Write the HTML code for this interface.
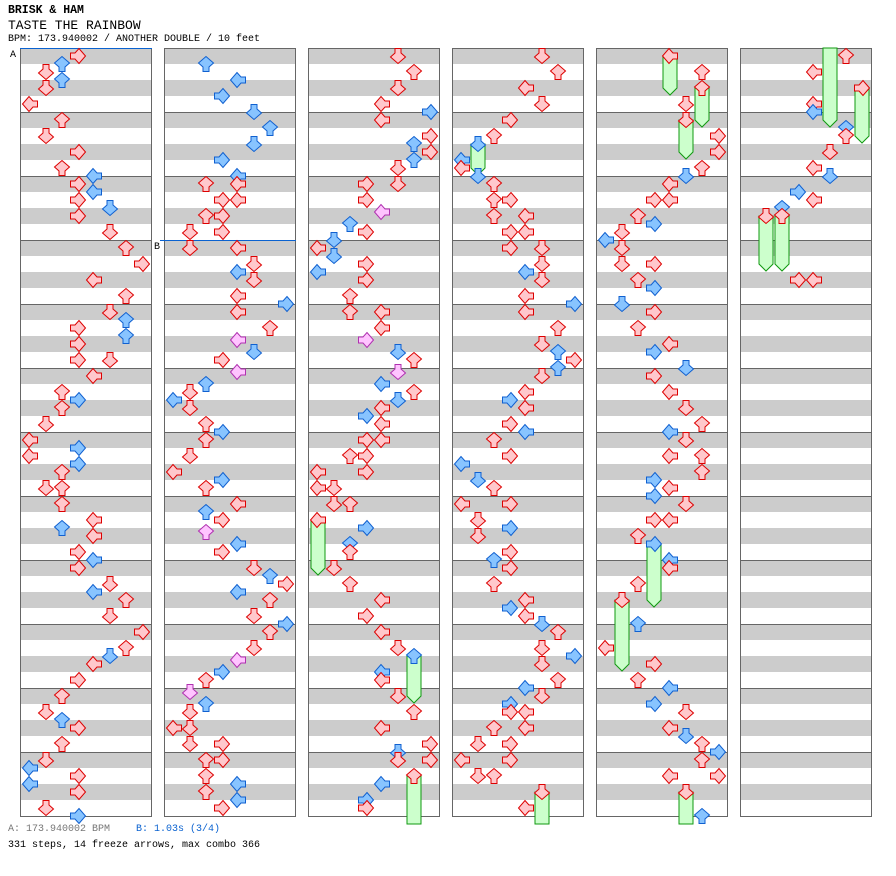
<!DOCTYPE html>
<html><head><meta charset="utf-8">
<style>
html,body{margin:0;padding:0;background:#fff;}
body{width:896px;height:876px;overflow:hidden;position:relative;font-family:"Liberation Mono",monospace;}
.t{position:absolute;white-space:pre;color:#000;}
</style></head>
<body>
<div class="t" style="left:8px;top:4px;font-size:11.5px;font-weight:bold;">BRISK &amp; HAM</div>
<div class="t" style="left:8px;top:18px;font-size:13px;">TASTE THE RAINBOW</div>
<div class="t" style="left:8px;top:34px;font-size:10px;">BPM: 173.940002 / ANOTHER DOUBLE / 10 feet</div>
<svg id="chart" width="896" height="876" style="position:absolute;left:0;top:0;pointer-events:none;"></svg>
<div class="t" style="left:8px;top:824px;font-size:10px;color:#777;">A: 173.940002 BPM</div>
<div class="t" style="left:136px;top:824px;font-size:10px;color:#0a62d0;">B: 1.03s (3/4)</div>
<div class="t" style="left:8px;top:840px;font-size:10px;">331 steps, 14 freeze arrows, max combo 366</div>
<script>
// times in eighth-beats from song start; 96 eighths per column
const noteTimes = [
0,1,2,3,4,6, 8,10,12,14,15, 16,17,18,19,20,22, 24,26,28,30, 32,33,34,35,36,38,38, 40,42,43,44,46,
48,49,50,51,52,54,54, 56,58,59,60,62,63, 64,66,67,68,70, 72,74,75,76,78, 80,82,83,84,86, 88,89,90,91,92,94,95,
97,99,101,103, 105,107,109,111, 112,112,114,114,116,116,118,118, 120,120,122,123,124,126,127, 128,130,131.5,133,134,135.5,
137,138,139,140,142,143, 144,146,148,149,150, 152,153,154,155.5,157,158, 160,161,162,163,164,166,167,
168,170,171.5,173,174,175.5, 177,178,180,180,182,182, 184,184,186,187,188,189,190,
192,194,196,198,199, 200,202,203,204,205,206, 208,208,210,211.5,213,214,215, 216,217,218,219,220,222,
224,224,226,227.5,229,230,231.5, 233,234,235,236,237,238, 240,240,242,242,244,244,246,246, 248,248,250,251,253,254,
256,258,260,262, 264,266,267,269,270, 272,274,276,278,279, 280,280,282,283,285,286,
288,290,292,294, 296,298,299,301,302,303, 304,306,306,308,308,310,310, 312,312,314,315,316,318,319,
320,322,324,325,326,327, 328,330,331,332,334,335, 336,338,339,341,342, 344,344,346,347,348,350,351,
352,354,356,357,358,359, 360,362,363,364,366,367, 368,369,370,370,372,372,374,374, 376,376,378,378,380,382,
384,386,388,390, 392,394,396,398,399, 400,402,402,404,405,406,407, 408,410,410,412,413,415, 416,418,420,421,423,
424,426,428,430,431, 432,434,434,436,437,438,439, 440,442,442,444,445,447, 448,450,452, 455,458,460,462,463,
465,466,468,469,470,471, 472,474,474,476,479,
480,482,484,486,487, 489,490,492,494,495, 497,498,499,500,500, 508,508
];
// lane 0-7: L D U R (P1) L D U R (P2)
const noteLanes = [
3,2,1,2,1,0, 2,1,3,2,4, 3,4,3,5,3,5, 6,7,4,6, 5,6,3,6,3,3,5, 4,2,3,2,1,
0,3,0,3,2,1,2, 2,4,2,4,3,4, 3,5,4,6,5, 7,6,5,4,3, 2,1,2,3,2, 1,0,3,0,3,1,3,
2,4,3,5, 6,5,3,4, 2,4,3,4,2,3,1,3, 1,4,5,4,5,4,7, 4,6,4,5,3,4,
2,1,0,1,2,3, 2,1,0,3,2, 4,2,3,2,4,3, 5,6,7,4,6,5,7,
6,5,4,3,2,1, 2,1,0,1,1,3, 2,3,2,4,2,4,3,
5,6,5,4,7, 4,7,6,7,6,5, 5,3,3,4,2,3,1, 0,1,3,0,3,2,
2,4,4,3,5,6,5, 4,6,5,4,3,4, 3,4,2,3,0,3,0,1, 1,2,0,3,2,2,
1,2,4,3, 4,5,6,4,4, 5,6,4,7,5, 5,7,6,4,3,3,
5,6,4,5, 3,2,1,0,0,1, 2,2,3,2,4,3,4, 3,5,5,4,5,4,7,
4,6,5,6,7,6, 5,4,3,4,3,4, 2,3,0,1,2, 0,3,1,3,1,3,2,
3,2,4,3,4,5, 6,5,7,5,6,4, 5,3,3,4,2,4,1,3, 0,3,1,2,5,4,
4,6,6,5, 5,7,7,6,5, 4,3,4,2,3,1,0, 1,1,3,2,3,1, 3,2,4,3,5,
3,4,5,6,4, 5,4,6,6,3,4,3, 5,3,4,2,3,4, 4,2,1, 2,0,3,2,4,
3,5,4,5,6,7, 6,4,7,5,6,
6,4,7,4,4, 6,6,5,4,5, 3,4,2,1,2, 3,4
];
const freezeStarts = [250,267,282,299,380,384,388,392,445,452,476,484,500,500];
const freezeEnds   = [256,272,288,302,384,388,392,396,452,460,488,490,506,506];
const freezeLanes  = [0,6,6,1,5,4,6,5,3,1,5,7,1,2];

const svg = document.getElementById('chart');
const NS = 'http://www.w3.org/2000/svg';
const PANEL_X = 20, PANEL_STEP = 144, PANEL_W = 132, TOP = 48, PER_PANEL = 96;
function panelOf(t){ return Math.floor(t / PER_PANEL); }
function xScale(t, lane){ return PANEL_X + panelOf(t) * PANEL_STEP + 10 + 16 * lane; }
function yScale(t){ return TOP + 8 + 8 * (t - panelOf(t) * PER_PANEL); }
function mk(tag, attrs){ const e = document.createElementNS(NS, tag); for (const k in attrs) e.setAttribute(k, attrs[k]); return e; }

// panels
for (let p = 0; p < 6; p++) {
  const g = mk('g', {});
  
  
  const x0 = PANEL_X + p * PANEL_STEP;
  for (let k = 0; k < 48; k++) {
    if (k % 2 === 0) g.appendChild(mk('rect', {x: x0, y: TOP + 16 * k, width: PANEL_W, height: 16, fill: '#cccccc'}));
  }
  for (let m = 1; m < 12; m++) {
    g.appendChild(mk('line', {x1: x0, x2: x0 + PANEL_W, y1: TOP + 64 * m + 0.5, y2: TOP + 64 * m + 0.5, stroke: '#666', 'stroke-width': 1}));
  }
  g.appendChild(mk('rect', {x: x0 + 0.5, y: TOP + 0.5, width: PANEL_W - 1, height: 768, fill: 'none', stroke: '#666', 'stroke-width': 1}));
  svg.appendChild(g);
}
// markers
const la = mk('line', {x1: 20, x2: 152, y1: 48.5, y2: 48.5, stroke: '#0a62d0', 'stroke-width': 1});


svg.appendChild(la);
const ta = mk('text', {x: 10, y: 57, 'font-size': 10, 'font-family': 'Liberation Mono, monospace'}); ta.textContent = 'A';


svg.appendChild(ta);
const lb = mk('line', {x1: 160, x2: 296, y1: 240.5, y2: 240.5, stroke: '#0a62d0', 'stroke-width': 1});


svg.appendChild(lb);
const tb = mk('text', {x: 154, y: 249, 'font-size': 10, 'font-family': 'Liberation Mono, monospace'}); tb.textContent = 'B';


svg.appendChild(tb);

// freezes
for (let i = 0; i < freezeStarts.length; i++) {
  const s = freezeStarts[i], e = freezeEnds[i], lane = freezeLanes[i];
  for (let p = panelOf(s); p <= panelOf(e - 0.001); p++) {
    const cx = PANEL_X + p * PANEL_STEP + 10 + 16 * lane;
    const startIn = panelOf(s) === p;
    const endIn = panelOf(e) === p;
    const y0 = startIn ? yScale(s) : TOP;
    const y1 = endIn ? yScale(e) : 824;
    const pts = endIn
      ? [[cx-7,y0],[cx+7,y0],[cx+7,y1],[cx,y1+7],[cx-7,y1]]
      : [[cx-7,y0],[cx+7,y0],[cx+7,y1],[cx-7,y1]];
    const poly = mk('polygon', {points: pts.map(q => q.join(',')).join(' '), fill: '#ccffcc', stroke: '#119911', 'stroke-width': 1});
    
    
    svg.appendChild(poly);
  }
}

// arrows
const ROT = [90, 0, 180, -90, 90, 0, 180, -90];
const SHAPE = '-3,-7.5 3,-7.5 3,-3 7.5,1 0,7.5 -7.5,1 -3,-3';
for (let i = 0; i < noteTimes.length; i++) {
  const t = noteTimes[i], lane = noteLanes[i];
  let fill = '#ffc8cc', stroke = '#dd0000';
  if (t % 2 === 1) { fill = '#88c4ff'; stroke = '#1060d0'; }
  else if (t % 1 !== 0) { fill = '#ffc4ff'; stroke = '#b030b0'; }
  const cx = xScale(t, lane), cy = yScale(t);
  const a = mk('polygon', {points: SHAPE, fill: fill, stroke: stroke, 'stroke-width': 1,
    transform: 'translate(' + cx + ',' + cy + ') rotate(' + ROT[lane] + ')'});
  
  
  svg.appendChild(a);
}
</script>
</body></html>
